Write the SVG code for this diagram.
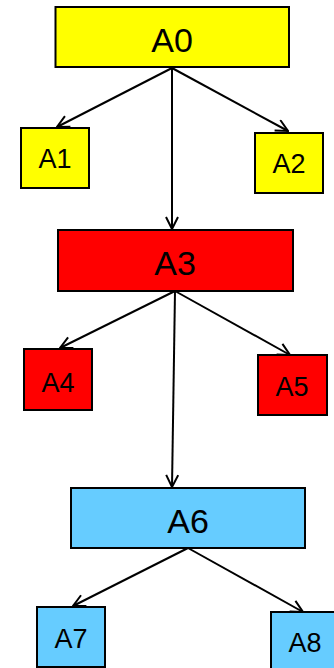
<svg xmlns="http://www.w3.org/2000/svg" width="334" height="668" viewBox="0 0 334 668">
<style>
.box{stroke:#000;stroke-width:2}
.y{fill:#FFFF00}.r{fill:#FF0000}.b{fill:#66CCFF}
text{font-family:"Liberation Sans",Arial,sans-serif;fill:#000;text-anchor:middle}
.big{font-size:34px}.sm{font-size:27px}
.edge{stroke:#000;stroke-width:2;fill:none;marker-end:url(#arr)}
</style>
<defs>
<marker id="arr" markerUnits="userSpaceOnUse" viewBox="0 0 14 14" refX="13" refY="7" markerWidth="14" markerHeight="14" orient="auto">
<path d="M1,1 L13,7 L1,13" fill="none" stroke="#000" stroke-width="2"/>
</marker>
</defs>
<g id="connectors">
<line class="edge" x1="172" y1="68" x2="57" y2="127"/>
<line class="edge" x1="172" y1="68" x2="288" y2="131"/>
<line class="edge" x1="172" y1="68" x2="172" y2="229"/>
<line class="edge" x1="175" y1="291" x2="60" y2="348"/>
<line class="edge" x1="175" y1="291" x2="290" y2="355"/>
<line class="edge" x1="175" y1="291" x2="172" y2="487"/>
<line class="edge" x1="188" y1="548" x2="73" y2="606"/>
<line class="edge" x1="188" y1="548" x2="303" y2="612"/>
</g>
<g id="A0"><rect class="box y" x="55.5" y="7" width="233.5" height="60"/><text class="big" x="172" y="52">A0</text></g>
<g id="A1"><rect class="box y" x="21" y="128" width="68" height="60"/><text class="sm" x="55" y="168">A1</text></g>
<g id="A2"><rect class="box y" x="255" y="133" width="68" height="60"/><text class="sm" x="289" y="173">A2</text></g>
<g id="A3"><rect class="box r" x="58" y="230" width="235" height="61"/><text class="big" x="175" y="275">A3</text></g>
<g id="A4"><rect class="box r" x="24" y="349" width="68" height="61"/><text class="sm" x="58" y="392">A4</text></g>
<g id="A5"><rect class="box r" x="258" y="355" width="69" height="60"/><text class="sm" x="292" y="396">A5</text></g>
<g id="A6"><rect class="box b" x="71" y="488" width="234" height="60"/><text class="big" x="188" y="533">A6</text></g>
<g id="A7"><rect class="box b" x="37" y="607" width="68" height="60"/><text class="sm" x="71" y="648">A7</text></g>
<g id="A8"><rect class="box b" x="271" y="612" width="68" height="62"/><text class="sm" x="305" y="652">A8</text></g>
</svg>
